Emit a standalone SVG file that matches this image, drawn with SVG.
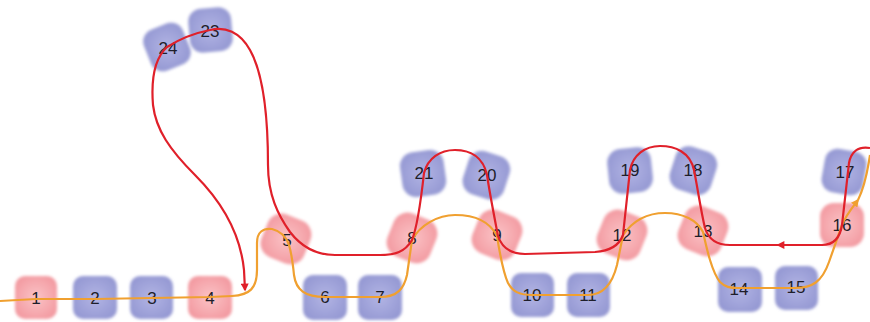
<svg xmlns="http://www.w3.org/2000/svg" width="870" height="322" viewBox="0 0 870 322">
<defs>
<radialGradient id="gp" cx="50%" cy="50%" r="60%"><stop offset="0" stop-color="#fbc3c6"/><stop offset="1" stop-color="#f2989f"/></radialGradient>
<radialGradient id="gb" cx="50%" cy="50%" r="60%"><stop offset="0" stop-color="#b2b4e4"/><stop offset="1" stop-color="#9397d2"/></radialGradient>
<filter id="soft" x="-20%" y="-20%" width="140%" height="140%"><feGaussianBlur stdDeviation="1.6"/></filter>
<marker id="ar" viewBox="0 0 10 10" refX="8" refY="5" markerWidth="9" markerHeight="8" orient="auto" markerUnits="userSpaceOnUse"><path d="M0,0 L10,5 L0,10 z" fill="#e0202a"/></marker>
<marker id="ao" viewBox="0 0 10 10" refX="8" refY="5" markerWidth="9" markerHeight="8" orient="auto" markerUnits="userSpaceOnUse"><path d="M0,0 L10,5 L0,10 z" fill="#f0a030"/></marker>
</defs>
<style>
.p{fill:url(#gp);filter:url(#soft)}
.b{fill:url(#gb);filter:url(#soft)}
.t{font-family:"Liberation Sans",Arial,sans-serif;font-size:17px;fill:#1e1e2a;text-anchor:middle;dominant-baseline:central}
.red{fill:none;stroke:#e0202a;stroke-width:2.2}
.org{fill:none;stroke:#f0a030;stroke-width:2.2}
</style>
<rect width="870" height="322" fill="#ffffff"/>
<g id="n1"><rect class="p" x="15" y="276" width="42" height="43" rx="10"/><text class="t" x="36" y="298">1</text></g>
<g id="n2"><rect class="b" x="73" y="276" width="44" height="43" rx="10"/><text class="t" x="95" y="298">2</text></g>
<g id="n3"><rect class="b" x="130" y="276" width="43" height="43" rx="10"/><text class="t" x="152" y="298">3</text></g>
<g id="n4"><rect class="p" x="188" y="276" width="44" height="43" rx="10"/><text class="t" x="210" y="298">4</text></g>
<g id="n5"><rect class="p" x="263" y="216" width="46" height="46" rx="15" transform="rotate(22 286 239)"/><text class="t" x="287" y="240">5</text></g>
<g id="n6"><rect class="b" x="303" y="275" width="44" height="45" rx="10"/><text class="t" x="325" y="297">6</text></g>
<g id="n7"><rect class="b" x="358" y="275" width="44" height="45" rx="10"/><text class="t" x="380" y="297">7</text></g>
<g id="n8"><rect class="p" x="389" y="215" width="46" height="46" rx="15" transform="rotate(22 412 238)"/><text class="t" x="412" y="238">8</text></g>
<g id="n9"><rect class="p" x="474" y="212" width="46" height="46" rx="15" transform="rotate(22 497 235)"/><text class="t" x="497" y="235">9</text></g>
<g id="n10"><rect class="b" x="511" y="273" width="43" height="44" rx="10"/><text class="t" x="532" y="295">10</text></g>
<g id="n11"><rect class="b" x="567" y="273" width="43" height="44" rx="10"/><text class="t" x="588" y="295">11</text></g>
<g id="n12"><rect class="p" x="599" y="212" width="46" height="46" rx="15" transform="rotate(22 622 235)"/><text class="t" x="622" y="235">12</text></g>
<g id="n13"><rect class="p" x="680" y="208" width="46" height="46" rx="15" transform="rotate(22 703 231)"/><text class="t" x="703" y="231">13</text></g>
<g id="n14"><rect class="b" x="718" y="267" width="44" height="45" rx="10"/><text class="t" x="739" y="289">14</text></g>
<g id="n15"><rect class="b" x="775" y="266" width="43" height="44" rx="10"/><text class="t" x="796" y="287">15</text></g>
<g id="n16"><rect class="p" x="820" y="203" width="44" height="44" rx="14"/><text class="t" x="842" y="225">16</text></g>
<g id="n17"><rect class="b" x="823" y="150" width="42" height="44" rx="13" transform="rotate(10 844 172)"/><text class="t" x="845" y="172">17</text></g>
<g id="n18"><rect class="b" x="672" y="148" width="43" height="45" rx="14" transform="rotate(18 693 170)"/><text class="t" x="693" y="170">18</text></g>
<g id="n19"><rect class="b" x="608" y="148" width="44" height="45" rx="14" transform="rotate(-6 630 170)"/><text class="t" x="630" y="170">19</text></g>
<g id="n20"><rect class="b" x="465" y="153" width="43" height="45" rx="14" transform="rotate(18 487 175)"/><text class="t" x="487" y="175">20</text></g>
<g id="n21"><rect class="b" x="401" y="151" width="44" height="45" rx="14" transform="rotate(-8 423 173)"/><text class="t" x="424" y="173">21</text></g>
<g id="n23"><rect class="b" x="189" y="8" width="43" height="44" rx="13" transform="rotate(-5 210 30)"/><text class="t" x="210" y="31">23</text></g>
<g id="n24"><rect class="b" x="146" y="25" width="42" height="44" rx="13" transform="rotate(-22 167 47)"/><text class="t" x="168" y="48">24</text></g>
<g id="connectors">
<path class="org" d="M0,301 L36,299 L95,299 L152,298 L210,297 L232,296 C250,295 257,288 257,270 L257,243 C257,232 263,228 272,229 C280,231 286,236 289,245 C292,255 293,265 294,275 C296,290 305,297 325,297 L380,297 C398,297 404,288 407,275 L412,240 C420,225 438,215 455,215 C475,215 490,222 497,236 C500,255 503,272 508,283 C513,292 520,295 532,295 L588,295 C603,295 612,285 617,265 L623,235 C632,222 645,213 665,213 C683,213 697,220 703,232 C707,250 712,272 720,282 C725,287 730,288 738,288 L795,288 C812,288 822,282 829,262 L842,225 C846,215 852,208 858,200" marker-end="url(#ao)"/>
<path class="org" d="M858,200 C863,190 867,175 870,155"/>
<path class="red" d="M870,148 C858,146 851,152 849,163 L842,225 C840,238 834,245 822,245 L778,245" marker-end="url(#ar)"/>
<path class="red" d="M778,245 L730,245 C716,245 708,238 705,228 C701,212 698,190 694,170 C690,152 675,146 660,146 C645,146 633,155 630,170 L623,235 C619,246 610,251 595,252 L525,254 C512,254 502,248 498,236 C494,215 490,195 487,175 C483,157 470,150 455,150 C440,150 428,158 424,173 C421,200 418,225 412,240 C405,252 395,255 380,255 L335,255 C315,255 300,245 290,232 C278,215 268,195 268,165 C268,120 264,75 250,50 C240,32 225,26 210,30 C195,33 178,40 167,47 C155,58 151,80 153,105 C156,130 170,150 195,175 C220,200 240,230 244,270 L245,290" marker-end="url(#ar)"/>
</g>
</svg>
